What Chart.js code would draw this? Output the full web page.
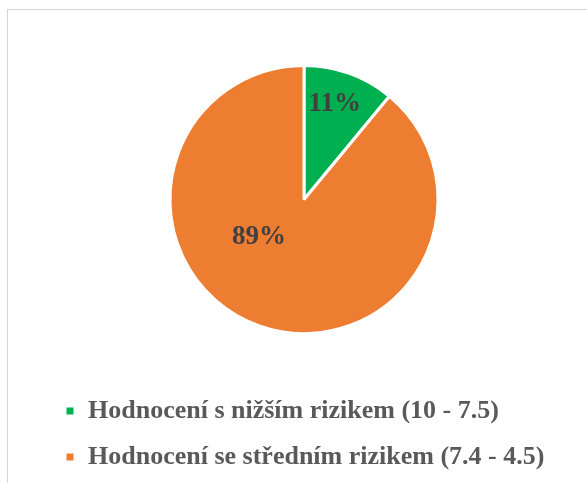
<!DOCTYPE html>
<html>
<head>
<meta charset="utf-8">
<script src="https://cdn.jsdelivr.net/npm/chart.js@4.4.0/dist/chart.umd.min.js"></script>
<style>
  html, body { margin: 0; padding: 0; background: #fff; overflow: hidden; }
  #frame { position: absolute; left: 7px; top: 9px; width: 700px; height: 600px; border: 1px solid #d6d6d6; }
  #chart { position: absolute; left: 0; top: 0; }
</style>
</head>
<body>
<div id="frame"></div>
<canvas id="chart" width="587" height="483"></canvas>
<script>
// data
const categories = ['Hodnocení s nižším rizikem (10 - 7.5)', 'Hodnocení se středním rizikem (7.4 - 4.5)'];
const shares = [11, 89];
const sliceColors = ['#00b050', '#ed7d31'];

// percent labels inside the slices
const sliceLabels = {
    id: 'sliceLabels',
    afterDatasetsDraw(chart, args, opts) {
        const ctx = chart.ctx;
        const meta = chart.getDatasetMeta(0);
        ctx.save();
        ctx.font = 'bold 27px "Liberation Serif", "Times New Roman", serif';
        ctx.fillStyle = '#404040';
        ctx.textAlign = 'center';
        ctx.textBaseline = 'middle';
        meta.data.forEach((arc, i) => {
            const p = arc.getProps(['x', 'y', 'startAngle', 'endAngle', 'outerRadius'], true);
            const place = opts.placement[i];
            const a = p.startAngle + (p.endAngle - p.startAngle) * place.angle;
            const r = p.outerRadius * place.radius;
            ctx.fillText(shares[i] + '%', p.x + Math.cos(a) * r, p.y + Math.sin(a) * r);
        });
        ctx.restore();
    }
};

new Chart(document.getElementById('chart'), {
    type: 'pie',
    data: {
        labels: categories,
        datasets: [{
            data: shares,
            backgroundColor: sliceColors,
            borderColor: '#ffffff',
            borderWidth: 3
        }]
    },
    options: {
        responsive: false,
        animation: false,
        radius: 134,
        layout: { padding: { left: 45, right: 24, top: 21, bottom: 3 } },
        plugins: {
            tooltip: { enabled: false },
            legend: {
                position: 'bottom',
                align: 'start',
                labels: {
                    boxWidth: 10,
                    boxHeight: 10,
                    padding: 20,
                    color: '#595959',
                    font: { family: '"Liberation Serif", "Times New Roman", serif', size: 26, weight: 'bold' }
                }
            },
            sliceLabels: {
                placement: [{ angle: 0.45, radius: 0.75 }, { angle: 0.594, radius: 0.44 }]
            }
        }
    },
    plugins: [sliceLabels]
});
</script>
</body>
</html>
